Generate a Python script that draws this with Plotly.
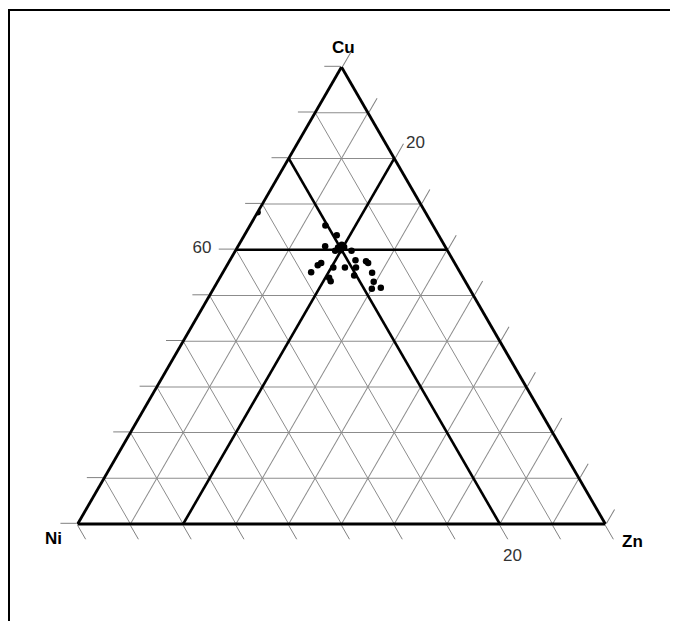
import plotly.graph_objects as go

# sample compositions (%)
cu = [68.2, 65.3, 63.2, 60.8, 59.8, 61.1, 60.6, 59.9, 59.8, 60.5, 57.1, 56.6, 55.1,
      56.1, 56.1, 53.9, 53.1, 57.7, 56.1, 54.4, 57.5, 57.1, 55.0, 53.0, 51.5, 51.7]
zn = [0.0, 14.3, 17.5, 16.5, 18.9, 19.5, 20.2, 19.9, 22.0, 19.1, 17.6, 17.2, 16.7,
      20.4, 22.6, 20.7, 21.4, 23.8, 24.7, 25.2, 25.9, 26.5, 28.3, 29.6, 30.0, 31.6]
ni = [round(100 - a - c, 1) for a, c in zip(cu, zn)]

ticks = list(range(0, 101, 10))
cu_labels = {60: '60\u00a0'}
ni_labels = {20: '\u00a0\u00a020'}
zn_labels = {20: '20'}

# reference lines: Cu = 60, Ni = 20, Zn = 20
cu_ref = 60
ni_ref = 20
zn_ref = 20

fig = go.Figure()

line_style = dict(color='black', width=2.6)
fig.add_trace(go.Scatterternary(a=[cu_ref, cu_ref], b=[100 - cu_ref, 0], c=[0, 100 - cu_ref],
                                mode='lines', line=line_style, hoverinfo='skip'))
fig.add_trace(go.Scatterternary(a=[100 - ni_ref, 0], b=[ni_ref, ni_ref], c=[0, 100 - ni_ref],
                                mode='lines', line=line_style, hoverinfo='skip'))
fig.add_trace(go.Scatterternary(a=[100 - zn_ref, 0], b=[0, 100 - zn_ref], c=[zn_ref, zn_ref],
                                mode='lines', line=line_style, hoverinfo='skip'))

fig.add_trace(go.Scatterternary(a=cu, b=ni, c=zn, mode='markers',
                                marker=dict(color='black', size=6.5), name='samples'))


def axis(labels):
    return dict(
        title=dict(text=''),
        min=0,
        tickmode='array',
        tickvals=ticks,
        ticktext=[labels.get(t, '') for t in ticks],
        ticks='outside', ticklen=16, tickcolor='#808080', tickwidth=1,
        tickfont=dict(family='Liberation Sans', size=17, color='#333333'),
        showgrid=True, gridcolor='#8c8c8c', gridwidth=1,
        showline=True, linecolor='black', linewidth=2.8,
    )


W, H = 678, 621
OFF = 8  # page body margin


def px(x):
    return (x - OFF) / W


def py(y):
    return 1 - (y - OFF) / H


title_font = dict(family='Liberation Sans', size=17, color='black')
title_pos = dict(showarrow=False, font=title_font, xanchor='center', yanchor='middle')
fig.update_layout(
    width=W, height=H,
    margin=dict(l=0, r=0, t=0, b=0),
    paper_bgcolor='white',
    showlegend=False,
    ternary=dict(
        sum=100,
        bgcolor='white',
        domain=dict(x=[px(341.5 - 300), px(341.5 + 300)], y=[py(524), py(67)]),
        aaxis=axis(cu_labels),
        baxis=axis(ni_labels),
        caxis=axis(zn_labels),
    ),
    annotations=[
        dict(text='<b>Cu</b>', x=px(343), y=py(48), **title_pos),
        dict(text='<b>Ni</b>', x=px(53), y=py(538), **title_pos),
        dict(text='<b>Zn</b>', x=px(632), y=py(541), **title_pos),
    ],
    shapes=[dict(type='rect', xref='paper', yref='paper',
                 x0=px(9), x1=1.05, y0=-0.05, y1=py(10),
                 line=dict(color='black', width=2))],
)

fig.write_html("out.html")
